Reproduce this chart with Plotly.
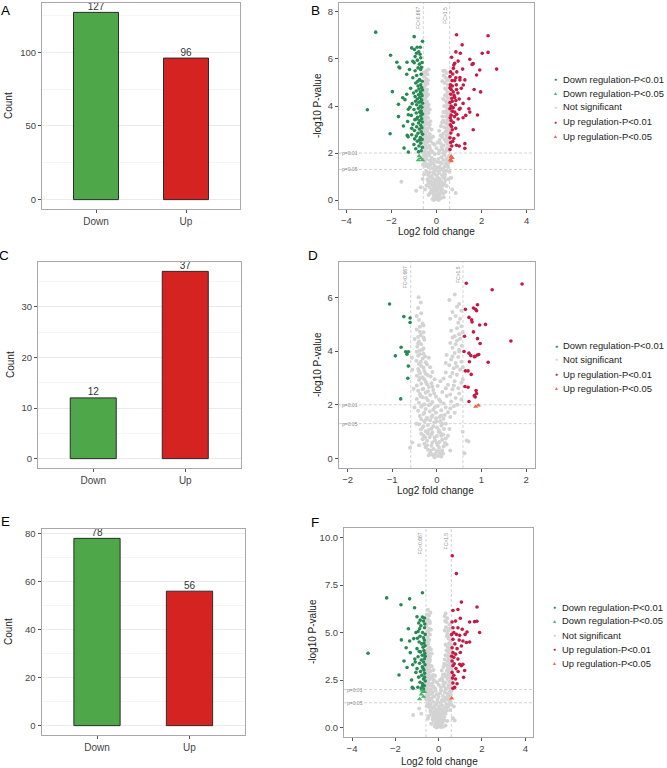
import plotly.graph_objects as go

W, H = 667, 768
FONT = "Liberation Sans, Arial, sans-serif"

# ---------------- bar chart data ----------------
bar_categories = ["Down", "Up"]
bar_counts_A = [127, 96]
bar_counts_C = [12, 37]
bar_counts_E = [78, 56]
bar_colors = ["#4ea84a", "#d42320"]

# ---------------- volcano thresholds ----------------
fc_lines = [-0.585, 0.585]
fc_labels = ["FC<0.667", "FC>1.5"]
p_lines = [2.0, 1.301]
p_labels = ["p=0.01", "p=0.05"]

legend_labels = ["Down regulation-P<0.01", "Down regulation-P<0.05", "Not significant",
                 "Up regulation-P<0.01", "Up regulation-P<0.05"]
group_colors = ["#268a52", "#45b267", "#d3d3d3", "#c41a43", "#f0644a"]
group_symbols = ["circle", "triangle-up", "circle", "circle", "triangle-up"]

# ---------------- panel B points (log2FC, -log10 p) ----------------
B_down01 = [(-2.70,7.14),(-3.07,3.84),(-2.04,6.16),(-2.06,2.82),(-1.96,4.61),(-1.76,5.86),(-1.67,5.66),
            (-1.63,5.62),(-1.31,5.86),(-1.32,5.35),(-1.32,4.5),(-1.5,4.35),(-1.4,4.27),(-1.69,4.07),(-1.25,3.86),
            (-1.69,3.55),(-1.25,3.63),(-1.47,3.15),(-1.28,3.34),(-1.3,2.75),(-1.26,2.69),(-1.44,2.21),(-1.25,2.04),
            (-0.99,6.95),(-0.62,6.75),(-1.1,6.47),(-0.98,6.4),(-0.86,6.5),(-0.72,6.5),(-0.89,6.24),(-0.73,6.2),
            (-0.79,6.31),(-0.99,5.84),(-0.76,5.78),(-0.82,5.62),(-0.7,5.55),(-0.95,5.5),(-0.68,5.35),(-0.88,5.3),
            (-1.05,5.2),(-0.75,5.12),(-0.64,5.05),(-0.92,4.98),(-0.7,4.9),(-0.82,4.85),(-0.66,4.78),(-0.78,4.72),
            (-0.62,4.68),(-0.9,4.64),(-0.72,4.6),(-0.68,4.52),(-0.8,4.48),(-0.64,4.44),(-0.95,4.4),(-0.74,4.36),
            (-0.85,4.3),(-0.66,4.26),(-0.7,4.2),(-0.78,4.16),(-0.62,4.12),(-1.08,4.1),(-0.88,4.05),(-0.72,4.0),
            (-0.65,3.95),(-0.8,3.9),(-1.0,3.85),(-0.68,3.8),(-0.75,3.74),(-0.9,3.7),(-0.62,3.66),(-1.12,3.6),
            (-0.7,3.58),(-0.84,3.52),(-0.66,3.46),(-0.96,3.42),(-0.74,3.38),(-0.63,3.32),(-0.8,3.28),(-1.05,3.22),
            (-0.7,3.18),(-0.88,3.12),(-0.65,3.08),(-0.76,3.02),(-0.98,2.96),(-0.68,2.9),(-0.82,2.84),(-0.62,2.8),
            (-1.1,2.78),(-0.9,2.72),(-0.72,2.66),(-0.64,2.58),(-0.85,2.5),(-0.7,2.42),(-1.0,2.36),(-0.78,2.3),
            (-0.63,2.24),(-0.92,2.18),(-0.68,2.1),(-0.8,2.05),(-1.15,4.75),(-1.2,5.55),(-1.1,3.05),(-0.95,6.1),
            (-1.05,5.9),(-0.85,5.95),(-0.64,5.85),(-0.7,6.05),(-0.93,4.2),(-1.02,4.55),(-0.87,3.45),(-1.18,3.95),
            (-0.76,2.55),(-0.67,5.65),(-0.83,5.05),(-0.97,2.6),(-0.69,3.72)]
B_down05 = [(-0.77,1.87),(-0.81,1.7),(-0.62,1.7),(-0.7,1.78)]
B_ns = [(-0.05,0.05),(0.02,0.1),(0.08,0.15),(-0.12,0.2),(0.15,0.22),(-0.02,0.25),(0.1,0.3),(-0.18,0.32),
        (0.2,0.35),(-0.08,0.38),(0.04,0.4),(-0.22,0.42),(0.25,0.45),(-0.14,0.48),(0.12,0.5),(0.0,0.18),
        (-0.1,0.08),(0.06,0.03),(-0.28,0.3),(0.3,0.28),
        (-0.3,0.55),(0.18,0.58),(-0.05,0.6),(0.28,0.62),(-0.2,0.65),(0.08,0.68),(-0.35,0.7),(0.35,0.72),
        (-0.12,0.75),(0.22,0.78),(-0.25,0.8),(0.02,0.82),(0.4,0.85),(-0.4,0.88),(0.14,0.9),(-0.16,0.92),
        (0.3,0.95),(-0.3,0.98),(0.05,0.97),(-0.08,0.7),(0.45,0.6),(-0.45,0.62),(-1.56,0.78),(-0.7,0.55),
        (0.7,0.45),(-0.62,0.9),(0.65,0.95),(-0.9,0.4),(0.85,0.3),
        (-0.22,1.02),(0.25,1.05),(-0.38,1.08),(0.38,1.1),(-0.1,1.12),(0.12,1.15),(-0.3,1.18),(0.32,1.2),
        (-0.45,1.22),(0.45,1.25),(-0.05,1.28),(0.2,1.3),(-0.18,1.35),(0.05,1.38),(-0.35,1.4),(0.36,1.42),
        (-0.5,1.45),(0.5,1.48),(-0.26,1.5),(0.28,1.32),
        (-0.4,1.52),(0.42,1.55),(-0.15,1.58),(0.16,1.6),(-0.52,1.62),(0.54,1.65),(-0.3,1.68),(0.3,1.7),
        (-0.45,1.75),(0.46,1.78),(-0.22,1.8),(0.22,1.82),(-0.56,1.85),(0.56,1.88),(-0.35,1.9),(0.35,1.92),
        (-0.08,1.95),(0.1,1.98),(-0.48,1.98),(0.5,1.6),
        (-0.38,2.02),(0.4,2.05),(-0.55,2.08),(0.55,2.1),(-0.25,2.12),(0.26,2.15),(-0.45,2.18),(0.46,2.2),
        (-0.58,2.25),(0.58,2.28),(-0.32,2.3),(0.32,2.32),(-0.5,2.35),(0.5,2.38),(-0.15,2.4),(0.18,2.42),
        (-0.42,2.45),(0.42,2.48),(-0.56,2.5),
        (0.56,2.52),(-0.36,2.55),(0.36,2.58),(-0.5,2.6),(0.48,2.62),(-0.22,2.65),(0.25,2.68),(-0.44,2.7),
        (0.44,2.72),(-0.58,2.75),(0.58,2.78),(-0.3,2.8),(0.3,2.82),(-0.52,2.85),(0.52,2.88),(-0.4,2.9),
        (0.4,2.92),(-0.56,2.95),(0.55,2.98),
        (-0.45,3.02),(0.45,3.05),(-0.34,3.08),(0.34,3.1),(-0.55,3.12),(0.55,3.15),(-0.5,3.2),(0.5,3.22),
        (-0.4,3.25),(0.4,3.28),(-0.58,3.3),(0.58,3.32),(-0.28,3.35),(0.3,3.38),(-0.48,3.4),(0.48,3.42),
        (-0.55,3.45),(0.54,3.48),
        (-0.42,3.52),(0.42,3.55),(-0.56,3.58),(0.56,3.6),(-0.5,3.65),(0.5,3.68),(-0.36,3.7),(0.36,3.72),
        (-0.58,3.75),(0.58,3.78),(-0.46,3.8),(0.46,3.82),(-0.52,3.88),(0.52,3.9),(-0.4,3.95),(0.4,3.98),
        (-0.55,4.02),(0.55,4.05),(-0.48,4.1),(0.48,4.12),(-0.42,4.18),(0.42,4.2),(-0.57,4.25),(0.57,4.28),
        (-0.5,4.32),(0.5,4.35),(-0.45,4.4),(0.45,4.42),(-0.38,4.48),(0.38,4.46),
        (-0.54,4.52),(0.54,4.55),(-0.48,4.62),(0.48,4.6),(-0.42,4.7),(0.42,4.72),(-0.56,4.78),(0.56,4.8),
        (-0.5,4.88),(0.5,4.9),(-0.4,4.95),(0.36,4.98),
        (-0.52,5.05),(0.48,5.08),(-0.45,5.15),(0.4,5.2),(-0.55,5.25),(0.32,5.3),(-0.4,5.35),(0.45,5.4),
        (-0.5,5.45),(0.3,5.5),(-0.35,5.55),
        (-0.03,0.45),(0.06,0.55),(-0.12,0.62),(0.1,0.75),(-0.06,0.85),(0.16,0.68),(-0.2,0.95),(0.0,1.05),
        (-0.14,1.18),(0.08,1.22),(-0.08,1.45),(0.14,1.42),(0.02,1.62),(-0.25,1.65),(0.24,1.55),(-0.1,1.72),
        (0.08,1.75),(-0.32,1.95),(0.3,2.0),(-0.18,2.05),(0.12,2.1),(0.0,2.2),(-0.3,2.22),(0.22,2.26),
        (-0.08,2.35),(0.05,2.45),(-0.26,2.5),(0.14,2.55),(-0.15,2.7),(0.18,2.75),(-0.35,2.65),(0.12,2.95),
        (-0.22,3.0),(0.2,3.15),(-0.3,3.2),(0.25,3.3),(-0.38,3.5),(0.26,3.55),(-0.3,3.85),(0.3,3.75),
        (-0.35,4.05),(0.34,4.0),(-0.44,4.55),(0.3,4.3),(-0.48,5.0),(0.38,4.75),(-0.38,5.1),(0.26,5.05),
        (0.52,5.15),(-0.58,5.4),(0.38,5.5),(-0.45,5.5),
        (-0.52,3.95),(-0.6,3.6),(-0.47,3.35),(-0.6,3.05),(-0.5,2.78),(-0.6,2.45),(-0.46,2.28),(-0.58,2.0),
        (-0.44,1.88),(-0.52,1.7),(-0.6,1.5),(0.6,3.62),(0.5,3.3),(0.6,3.0),(0.46,2.75),(0.6,2.4),
        (0.48,2.15),(0.6,1.9),(0.44,1.7),(0.52,1.4),(0.58,1.2),(0.36,1.0),(-0.36,0.8),(-0.55,1.1),
        (0.54,0.9),(-0.5,0.45),(0.4,0.35),(-0.35,0.22),(0.32,0.12),(-0.18,0.05),(0.2,0.08),(-0.12,0.0),
        (0.1,0.0)]
B_up01 = [(0.89,7.03),(2.29,6.99),(1.14,6.6),(0.86,6.3),(1.06,6.24),(2.03,6.24),(2.29,6.28),(0.67,6.07),
          (0.96,5.91),(1.48,5.99),(0.81,5.82),(0.77,5.74),(1.63,5.8),(1.58,5.77),(1.16,5.57),(1.92,5.53),
          (2.67,5.57),(0.72,5.36),(1.78,5.32),(0.6,5.25),(0.86,5.2),(1.04,5.21),(1.04,5.11),(1.26,5.11),
          (0.81,5.08),(0.69,5.08),(1.19,4.89),(0.6,4.77),(0.65,4.7),(0.89,4.7),(1.67,4.7),(1.96,4.6),
          (0.74,4.6),(0.63,4.5),(0.81,4.36),(0.68,4.33),(1.01,4.3),(0.86,4.23),(1.44,4.31),(1.18,4.11),
          (0.65,4.0),(0.74,3.93),(0.6,3.88),(1.01,3.86),(1.44,3.88),(1.48,3.74),(1.82,3.62),(0.81,3.74),
          (0.65,3.61),(0.61,3.5),(1.18,3.5),(0.96,3.45),(0.65,3.38),(0.67,3.13),(0.7,2.99),(1.63,2.99),
          (0.96,2.77),(0.77,2.62),(0.68,2.3),(0.89,2.33),(1.01,2.3),(1.26,2.4),(1.26,2.2),(0.6,2.15),
          (0.62,5.45),(0.7,4.85),(0.78,4.45),(0.6,4.15),(0.84,4.05),(0.7,3.78),(0.9,3.65),(0.75,3.3),
          (0.62,3.2),(0.85,3.05),(0.64,2.85),(0.72,2.5),(0.6,2.65),(0.9,5.45),(0.75,5.6),(0.62,4.9),
          (0.95,4.55),(0.7,4.2),(1.1,4.75),(0.66,3.95),(0.8,3.55),(1.05,3.9),(1.3,3.6),(0.63,2.45),(0.88,4.9)]
B_up05 = [(0.65,1.85),(0.7,1.8),(0.62,1.72),(0.66,1.66)]

# ---------------- panel D points ----------------
D_down01 = [(-1.06,5.75),(-0.74,5.28),(-0.6,5.23),(-0.6,5.06),(-0.8,4.14),(-0.93,3.82),(-0.7,3.97),
            (-0.67,3.88),(-0.64,3.97),(-0.64,3.44),(-0.65,2.99),(-0.81,2.22)]
D_down05 = []
D_ns = [(-0.05,0.05),(0.03,0.1),(-0.1,0.15),(0.08,0.2),(-0.15,0.22),(0.0,0.28),(0.12,0.3),(-0.2,0.33),
        (-0.07,0.36),(0.05,0.4),(-0.25,0.42),(0.15,0.45),(-0.12,0.48),(0.02,0.5),(-0.03,0.18),(0.1,0.08),
        (-0.18,0.12),(0.67,0.67),(0.71,0.64),(-0.55,0.6),
        (-0.28,0.55),(0.18,0.58),(-0.1,0.6),(0.06,0.62),(-0.22,0.66),(0.12,0.7),(-0.32,0.72),(0.2,0.75),
        (-0.05,0.78),(-0.16,0.8),(0.0,0.84),(-0.3,0.86),(0.14,0.9),(-0.2,0.93),(0.08,0.95),(-0.1,0.98),
        (0.22,0.52),(-0.35,0.92),(0.25,0.85),
        (-0.25,1.02),(0.05,1.05),(-0.36,1.08),(0.16,1.1),(-0.12,1.12),(0.0,1.16),(-0.3,1.2),(0.1,1.22),
        (-0.2,1.25),(-0.4,1.28),(0.2,1.3),(-0.06,1.34),(-0.28,1.38),(0.08,1.4),(-0.15,1.43),(-0.35,1.46),
        (0.15,1.48),(-0.02,1.5),
        (-0.22,1.52),(0.06,1.55),(-0.38,1.58),(-0.1,1.6),(0.18,1.62),(-0.3,1.66),(-0.02,1.7),(0.25,1.72),
        (-0.16,1.75),(-0.42,1.78),(0.1,1.8),(-0.25,1.84),(0.3,1.86),(-0.05,1.9),(-0.35,1.93),(0.02,1.96),
        (-0.18,1.98),(0.38,1.95),
        (-0.28,2.02),(0.15,2.05),(-0.4,2.08),(-0.1,2.1),(0.32,2.12),(-0.2,2.16),(0.05,2.2),(-0.45,2.22),
        (0.42,2.25),(-0.32,2.28),(-0.02,2.3),(0.22,2.33),(-0.15,2.36),(-0.38,2.4),(0.5,2.42),(-0.25,2.45),
        (0.12,2.48),
        (-0.42,2.52),(-0.08,2.55),(0.35,2.58),(-0.3,2.6),(0.48,2.62),(-0.18,2.66),(0.02,2.7),(-0.45,2.72),
        (0.25,2.75),(-0.35,2.78),(-0.12,2.8),(0.55,2.82),(-0.25,2.86),(0.4,2.88),(-0.4,2.92),(-0.05,2.95),
        (0.15,2.98),
        (-0.32,3.02),(0.3,3.05),(-0.45,3.08),(-0.2,3.1),(0.45,3.12),(-0.38,3.16),(0.2,3.2),(-0.1,3.22),
        (-0.28,3.26),(0.52,3.3),(-0.42,3.33),(0.38,3.36),(-0.15,3.4),(-0.35,3.44),(0.28,3.47),
        (-0.4,3.52),(0.42,3.55),(-0.25,3.58),(0.55,3.6),(-0.46,3.64),(0.32,3.68),(-0.32,3.72),(-0.18,3.75),
        (0.48,3.78),(-0.42,3.82),(0.22,3.85),(-0.3,3.9),(0.4,3.93),(-0.45,3.97),
        (-0.38,4.02),(0.5,4.05),(-0.3,4.1),(0.35,4.12),(-0.44,4.16),(0.56,4.2),(-0.35,4.25),(0.3,4.3),
        (-0.4,4.35),(0.45,4.38),(-0.28,4.42),(0.52,4.46),
        (-0.42,4.52),(0.4,4.55),(-0.36,4.6),(0.5,4.62),(-0.3,4.7),(0.32,4.75),(-0.45,4.8),(0.45,4.85),
        (-0.38,4.9),(0.55,4.92),
        (-0.32,5.02),(0.48,5.05),(-0.4,5.15),(0.3,5.2),(0.42,5.3),(-0.35,5.4),(0.55,5.5),(-0.42,5.6),
        (0.28,5.9),(-0.41,6.0),(0.4,6.1),(0.5,5.75),
        (-0.08,0.12),(0.05,0.25),(-0.14,0.3),(0.14,0.18),(-0.22,0.5),(0.0,0.58),(-0.04,0.68),(0.1,0.85),
        (-0.26,0.78),(-0.12,0.9),(0.04,1.0),(-0.18,1.06),(-0.32,1.15),(0.12,1.3),(-0.08,1.2),(-0.24,1.45),
        (0.0,1.38),(-0.12,1.55),(0.1,1.6),(-0.28,1.7),(-0.08,1.82),(0.2,1.9),(-0.3,2.0),(-0.14,2.02),
        (0.08,2.12),(-0.24,2.25),(-0.36,2.32),(0.3,2.38),(-0.06,2.42),(-0.2,2.5),(-0.32,2.58),(0.2,2.62),
        (-0.1,2.68),(-0.22,2.76),(0.38,2.72),(-0.28,2.95),(0.08,2.88),(-0.38,3.0),(-0.14,3.05),(0.35,3.18),
        (-0.25,3.15),(-0.4,3.25),(0.45,3.42),(-0.3,3.38),(-0.22,3.5),(0.2,3.55),(-0.36,3.6),(0.35,3.8),
        (-0.26,3.8),(-0.38,3.88),(0.5,3.98),(-0.32,4.05),(-0.42,4.28),(0.42,4.25),(-0.3,4.5),(0.35,4.5),
        (-0.38,4.72),(0.58,4.7),(-0.3,4.95),(0.52,5.2),(0.35,5.45),(-0.45,5.3),(0.45,5.65),(-0.36,5.8),
        (0.58,3.4),(0.58,2.95),(0.46,2.0),(0.55,2.2),(0.3,1.55),(0.4,1.7),(-0.5,1.9),(-0.52,2.6),
        (-0.55,3.3),(-0.5,4.45),(-0.56,3.75),(0.62,0.2),(-0.6,0.4),(0.58,1.0),(-0.4,0.5),(0.3,0.3),
        (0.28,1.1),(-0.46,1.3)]
D_up01 = [(0.66,6.52),(1.91,6.49),(1.24,6.28),(0.91,5.72),(0.64,5.55),(0.82,5.6),(0.87,5.55),(0.89,5.5),
          (0.72,5.25),(0.78,5.16),(0.79,5.08),(0.96,4.97),(1.09,4.99),(0.62,4.55),(0.82,4.71),(0.91,4.46),
          (0.97,4.28),(1.66,4.37),(0.61,3.98),(0.72,3.92),(0.76,3.83),(0.84,3.79),(0.91,3.85),(0.94,3.87),
          (0.86,3.8),(1.15,3.58),(0.73,3.6),(0.64,3.26),(0.7,3.26),(0.77,3.13),(0.63,2.68),(0.7,2.65),
          (0.88,2.53),(0.84,2.34),(0.86,2.29),(0.72,2.12),(0.89,2.42)]
D_up05 = [(0.87,1.93),(0.93,1.98)]

# ---------------- panel F points ----------------
F_down01 = [(-2.4,6.82),(-0.75,7.09),(-1.34,6.77),(-1.74,6.46),(-1.11,6.3),(-1.0,5.83),(-0.75,5.81),
            (-0.65,5.76),(-3.26,3.91),(-1.72,4.61),(-1.4,5.2),(-1.34,4.55),(-1.15,4.68),(-1.31,3.94),
            (-1.83,2.76),(-1.46,3.16),(-1.18,2.06),(-1.22,2.11),(-1.5,4.2),(-1.2,3.3),(-1.1,3.6),(-1.25,2.5),
            (-1.05,5.0),(-1.6,3.5),
            (-0.92,5.5),(-0.7,5.6),(-0.82,5.35),(-0.65,5.25),(-0.95,5.05),(-0.74,5.0),(-0.62,4.9),(-0.86,4.8),
            (-0.7,4.72),(-0.66,4.6),(-0.9,4.5),(-0.78,4.4),(-0.63,4.3),(-0.72,4.22),(-1.0,4.15),(-0.68,4.05),
            (-0.84,3.98),(-0.64,3.9),(-0.76,3.8),(-0.95,3.72),(-0.66,3.62),(-0.8,3.55),(-0.7,3.45),(-0.88,3.38),
            (-0.63,3.3),(-0.75,3.2),(-1.0,3.1),(-0.68,3.02),(-0.84,2.95),(-0.65,2.85),(-0.78,2.75),(-0.92,2.65),
            (-0.7,2.55),(-0.62,2.45),(-0.86,2.38),(-0.74,2.3),(-0.66,2.2),(-0.96,2.12),(-0.8,2.05),(-0.7,2.02),
            (-1.05,2.9),(-0.9,4.0),(-0.64,5.45),(-0.98,4.7),(-0.72,3.1),(-0.62,3.75),(-0.85,5.65),(-0.68,4.45),
            (-1.08,3.45),(-0.76,2.15),(-0.88,5.2),(-0.65,2.65)]
F_down05 = [(-0.88,1.5),(-0.72,1.88),(-0.65,1.88),(-0.8,1.75),(-0.7,1.62),(-0.76,1.95)]
F_ns = [(-0.04,0.04),(0.05,0.08),(-0.1,0.12),(0.12,0.16),(-0.16,0.2),(0.0,0.22),(0.18,0.26),(-0.08,0.3),
        (0.08,0.33),(-0.22,0.36),(0.22,0.4),(-0.02,0.42),(-0.14,0.46),(0.14,0.48),(0.03,0.15),(-0.06,0.25),
        (0.28,0.38),(-0.28,0.44),(0.66,0.49),(0.74,0.37),
        (-0.26,0.52),(0.26,0.55),(-0.06,0.58),(0.1,0.6),(-0.18,0.64),(0.18,0.67),(-0.32,0.7),(0.32,0.72),
        (-0.1,0.75),(0.04,0.78),(-0.24,0.82),(0.24,0.85),(-0.38,0.88),(0.38,0.9),(-0.14,0.93),(0.14,0.96),
        (0.0,0.98),(-1.18,0.66),(-0.8,0.72),(-0.45,0.6),
        (-0.3,1.02),(0.3,1.05),(-0.44,1.08),(0.44,1.1),(-0.18,1.13),(0.16,1.16),(-0.36,1.2),(0.36,1.23),
        (-0.5,1.26),(0.5,1.28),(-0.08,1.3),(0.08,1.33),(-0.26,1.36),(0.26,1.4),(-0.42,1.43),(0.42,1.46),
        (-0.55,1.48),(-0.9,1.0),(0.7,1.1),(0.55,1.35),
        (-0.34,1.52),(0.34,1.55),(-0.48,1.58),(0.48,1.6),(-0.2,1.63),(0.2,1.66),(-0.56,1.7),(0.56,1.72),
        (-0.4,1.75),(0.4,1.78),(-0.28,1.82),(0.28,1.85),(-0.52,1.88),(0.52,1.9),(-0.14,1.93),(0.12,1.96),
        (-0.45,1.98),
        (-0.36,2.02),(0.38,2.05),(-0.54,2.08),(0.54,2.1),(-0.24,2.14),(0.24,2.17),(-0.46,2.2),(0.46,2.23),
        (-0.58,2.26),(0.58,2.3),(-0.3,2.33),(0.32,2.36),(-0.5,2.4),(0.5,2.43),(-0.2,2.46),(0.18,2.49),
        (-0.42,2.52),(0.42,2.55),(-0.56,2.58),(0.56,2.6),(-0.34,2.64),(0.34,2.67),(-0.5,2.7),(0.5,2.73),
        (-0.26,2.76),(0.28,2.8),(-0.46,2.84),(0.46,2.87),(-0.58,2.9),(0.58,2.93),(-0.38,2.96),(0.38,2.99),
        (-0.52,3.02),(0.52,3.05),(-0.44,3.1),(0.44,3.12),(-0.56,3.16),(0.56,3.2),(-0.36,3.24),(0.36,3.27),
        (-0.5,3.3),(0.5,3.34),(-0.58,3.38),(0.58,3.42),(-0.42,3.46),(0.42,3.48),
        (-0.54,3.52),(0.54,3.56),(-0.46,3.6),(0.46,3.63),(-0.58,3.67),(0.58,3.7),(-0.4,3.74),(0.4,3.78),
        (-0.52,3.82),(0.52,3.86),(-0.46,3.92),(0.46,3.96),
        (-0.56,4.02),(0.56,4.06),(-0.5,4.1),(0.5,4.14),(-0.42,4.2),(0.42,4.24),(-0.58,4.3),(0.58,4.34),
        (-0.48,4.4),(0.48,4.44),
        (-0.55,4.52),(0.55,4.56),(-0.46,4.64),(0.46,4.68),(-0.52,4.76),(0.52,4.8),(-0.4,4.88),(0.4,4.94),
        (-0.5,5.05),(0.44,5.1),(-0.44,5.2),(0.34,5.28),(-0.56,5.35),(0.5,5.42),(-0.4,5.5),(0.3,5.6),
        (-0.5,5.7),(0.4,5.75),(-0.45,5.9),(-0.38,6.05),(0.32,6.0),(-0.5,6.2),
        (-0.02,0.5),(0.06,0.62),(-0.1,0.7),(0.12,0.8),(-0.04,0.9),(0.18,0.95),(-0.2,1.05),(0.02,1.1),
        (-0.12,1.22),(0.1,1.25),(-0.06,1.48),(0.16,1.45),(0.0,1.6),(-0.26,1.62),(0.26,1.5),(-0.08,1.75),
        (0.06,1.8),(-0.32,1.92),(0.32,2.0),(-0.16,2.05),(0.1,2.12),(0.0,2.25),(-0.3,2.2),(0.22,2.3),
        (-0.08,2.38),(0.06,2.5),(-0.26,2.55),(0.16,2.6),(-0.16,2.72),(0.2,2.78),(-0.36,2.68),(0.14,3.0),
        (-0.24,3.02),(0.22,3.18),(-0.32,3.22),(0.26,3.35),(-0.4,3.55),(0.28,3.58),(-0.32,3.9),(0.32,3.8),
        (-0.36,4.1),(0.36,4.05),(-0.44,4.6),(0.32,4.35),(-0.48,5.0),(0.38,4.8),(-0.36,5.15),(0.28,5.1),
        (0.5,5.2),(-0.58,5.5),(0.36,5.55),(-0.42,5.6),(0.28,5.85),(-0.55,5.95),
        (-0.52,3.98),(-0.6,3.62),(-0.48,3.36),(-0.6,3.08),(-0.52,2.8),(-0.6,2.48),(-0.44,2.3),(-0.58,2.02),
        (-0.46,1.9),(-0.52,1.72),(-0.6,1.52),(0.6,3.6),(0.5,3.3),(0.6,3.02),(0.46,2.76),(0.6,2.42),
        (0.48,2.16),(0.6,1.92),(0.44,1.7),(0.52,1.42),(0.58,1.22),(0.36,1.02),(-0.36,0.8),(-0.55,1.12),
        (0.54,0.92),(-0.5,0.46),(0.4,0.34),(-0.34,0.2),(0.32,0.1),(-0.18,0.06),(0.2,0.04),(-0.1,0.0),
        (0.1,0.02)]
F_up01 = [(0.63,9.04),(0.82,8.1),(1.05,6.6),(1.77,6.34),(0.66,6.16),(0.89,6.21),(1.43,5.55),(1.66,5.57),
          (1.77,5.59),(1.89,5.0),(0.66,5.25),(0.89,5.25),(1.09,5.17),(1.31,5.03),(0.82,4.9),(0.97,4.85),
          (1.22,4.9),(0.66,4.64),(1.12,4.55),(1.28,4.47),(1.05,4.29),(1.43,4.5),(0.66,3.94),(0.78,3.86),
          (0.89,3.6),(0.97,3.33),(1.05,3.25),(1.12,3.33),(0.66,3.25),(1.15,2.64),(0.78,2.55),(0.66,2.34),
          (0.74,2.11),(0.66,2.06),(0.62,5.55),(0.7,5.0),(0.75,4.4),(0.62,4.2),(0.85,4.15),(0.7,3.7),
          (0.62,3.5),(0.8,3.1),(0.62,2.9),(0.9,2.95),(0.7,2.75),(0.6,4.9),(0.95,4.6),(0.6,3.75),(1.0,3.95),
          (0.72,3.35),(1.2,3.0),(0.85,2.3),(0.64,2.6),(0.78,5.6),(1.0,5.75)]
F_up05 = [(0.6,1.54)]

# ---------------- layout geometry (pixel boxes: x0, y0, x1, y1) ----------------
boxes = {
    "A": (42, 3, 240, 209), "B": (339, 3, 534, 209),
    "C": (38, 262, 240.5, 468), "D": (338.7, 262, 535, 468),
    "E": (41.5, 529, 245, 735), "F": (344, 528, 533.3, 737),
}
axis_ids = {"A": 1, "B": 2, "C": 3, "D": 4, "E": 5, "F": 6}

def dom(b):
    x0, y0, x1, y1 = b
    return [x0 / W, x1 / W], [1 - y1 / H, 1 - y0 / H]

fig = go.Figure()
layout = dict(width=W, height=H, margin=dict(l=0, r=0, t=0, b=0),
              paper_bgcolor="white", plot_bgcolor="white", showlegend=False,
              font=dict(family=FONT, color="#333333"))
annotations, shapes = [], []

def ax_common():
    return dict(showline=True, mirror=True, linecolor="#a8a8a8", linewidth=1,
                ticks="outside", ticklen=3, tickcolor="#555555", tickwidth=1,
                tickfont=dict(family=FONT, size=9.5, color="#444444"),
                zeroline=False, showgrid=False)

# ---------- bar panels ----------
bar_specs = [("A", bar_counts_A, [0, 50, 100], 25, [-6.35, 133.35]),
             ("C", bar_counts_C, [0, 10, 20, 30], 5, [-1.85, 38.85]),
             ("E", bar_counts_E, [0, 20, 40, 60, 80], 10, [-3.9, 81.9])]
for key, counts, tv, minor_dt, yr in bar_specs:
    i = axis_ids[key]
    sx = "" if i == 1 else str(i)
    fig.add_trace(go.Bar(x=bar_categories, y=counts, width=0.5,
                         marker=dict(color=bar_colors, line=dict(color="#2b2b2b", width=1)),
                         xaxis="x" + sx, yaxis="y" + sx))
    fig.add_trace(go.Scatter(x=bar_categories, y=counts, mode="text",
                             text=[str(c) for c in counts], textposition="top center",
                             textfont=dict(family=FONT, size=10, color="#333333"),
                             cliponaxis=False, xaxis="x" + sx, yaxis="y" + sx))
    xd, yd = dom(boxes[key])
    xa = ax_common(); xa.update(domain=xd, anchor="y" + sx, range=[-0.6, 1.6],
                                type="category", tickfont=dict(family=FONT, size=10, color="#444444"))
    ya = ax_common(); ya.update(domain=yd, anchor="x" + sx, range=yr, tickvals=tv,
                                showgrid=True, gridcolor="#ebebeb", gridwidth=1,
                                minor=dict(dtick=minor_dt, tick0=0, showgrid=True, gridcolor="#f5f5f5"))
    layout["xaxis" + sx] = xa
    layout["yaxis" + sx] = ya

# ---------- volcano panels ----------
volc_specs = [
    ("B", [B_down01, B_down05, B_ns, B_up01, B_up05], [-4.33, 4.33], [-4, -2, 0, 2, 4],
     [-0.38, 8.38], [0, 2, 4, 6, 8], None),
    ("D", [D_down01, D_down05, D_ns, D_up01, D_up05], [-2.2, 2.2], [-2, -1, 0, 1, 2],
     [-0.35, 7.31], [0, 2, 4, 6], None),
    ("F", [F_down01, F_down05, F_ns, F_up01, F_up05], [-4.37, 4.37], [-4, -2, 0, 2, 4],
     [-0.5, 10.5], [0, 2.5, 5, 7.5, 10], ".1f"),
]
draw_order = [2, 0, 1, 3, 4]
marker_sizes = [3.6, 4.6, 4.0, 3.6, 4.6]
for key, groups, xr, xt, yr, yt, yfmt in volc_specs:
    sx = str(axis_ids[key])
    for g in draw_order:
        pts = groups[g]
        if not pts:
            continue
        fig.add_trace(go.Scatter(x=[p[0] for p in pts], y=[p[1] for p in pts], mode="markers",
                                 marker=dict(color=group_colors[g], symbol=group_symbols[g],
                                             size=marker_sizes[g]),
                                 name=legend_labels[g], xaxis="x" + sx, yaxis="y" + sx))
    xd, yd = dom(boxes[key])
    xa = ax_common(); xa.update(domain=xd, anchor="y" + sx, range=xr, tickvals=xt)
    ya = ax_common(); ya.update(domain=yd, anchor="x" + sx, range=yr, tickvals=yt)
    if yfmt:
        ya["tickformat"] = yfmt
    layout["xaxis" + sx] = xa
    layout["yaxis" + sx] = ya
    for v, lab in zip(fc_lines, fc_labels):
        shapes.append(dict(type="line", xref="x" + sx, yref="y" + sx + " domain", x0=v, x1=v, y0=0, y1=1,
                           line=dict(color="#c8c8c8", width=0.8, dash="3px,2px"), layer="below"))
        annotations.append(dict(text=lab, xref="x" + sx, yref="y" + sx + " domain", x=v, y=0.99,
                                xanchor="right", yanchor="top", textangle=-90, showarrow=False,
                                xshift=-0.5, font=dict(family=FONT, size=5, color="#8a8a8a")))
    for v, lab in zip(p_lines, p_labels):
        shapes.append(dict(type="line", xref="x" + sx + " domain", yref="y" + sx, x0=0, x1=1, y0=v, y1=v,
                           line=dict(color="#c8c8c8", width=0.8, dash="3px,2px"), layer="below"))
        annotations.append(dict(text=lab, xref="x" + sx + " domain", yref="y" + sx, x=0.005, y=v,
                                xanchor="left", yanchor="middle", showarrow=False,
                                font=dict(family=FONT, size=5, color="#8a8a8a")))

# ---------- text annotations (px positions) ----------
def ann(text, x, y, size, angle=0, xanchor="center", color="#222222"):
    annotations.append(dict(text=text, x=x / W, y=1 - y / H, xref="paper", yref="paper",
                            xanchor=xanchor, yanchor="middle", textangle=angle, showarrow=False,
                            font=dict(family=FONT, size=size, color=color)))

panel_letters = [("A", 5, 10), ("B", 315, 10), ("C", 4, 255), ("D", 313, 255), ("E", 6, 521), ("F", 315, 522)]
for t, x, y in panel_letters:
    ann(t, x, y, 13.5, color="#000000")

for x, y in [(8, 106), (10, 365), (8, 632)]:
    ann("Count", x, y, 10, angle=-90)
for x, y in [(317, 106), (317, 365), (312, 632)]:
    ann("-log10 P-value", x, y, 10, angle=-90)
for x, y in [(436.5, 231), (435, 490), (439, 761)]:
    ann("Log2 fold change", x, y, 10)

legend_rows = {
    "B": (555, 561, [79, 93, 107, 122, 136], [0, 1, 2, 3, 4]),
    "D": (556, 561, [346, 359.5, 374, 388], [0, 2, 3, 4]),
    "F": (554, 560, [607, 620.5, 635, 649, 663], [0, 1, 2, 3, 4]),
}
for key, (mx, tx, ys, idxs) in legend_rows.items():
    for y, g in zip(ys, idxs):
        sym = "\u25B2" if group_symbols[g] == "triangle-up" else "\u25CF"
        ann(sym, mx, y, 5, color=group_colors[g])
        ann(legend_labels[g], tx, y, 9.4, xanchor="left", color="#222222")

layout["annotations"] = annotations
layout["shapes"] = shapes
fig.update_layout(**layout)
fig.write_html("out.html", config={"displayModeBar": False},
               post_script="document.body.style.margin='0';document.body.style.overflow='hidden';")
